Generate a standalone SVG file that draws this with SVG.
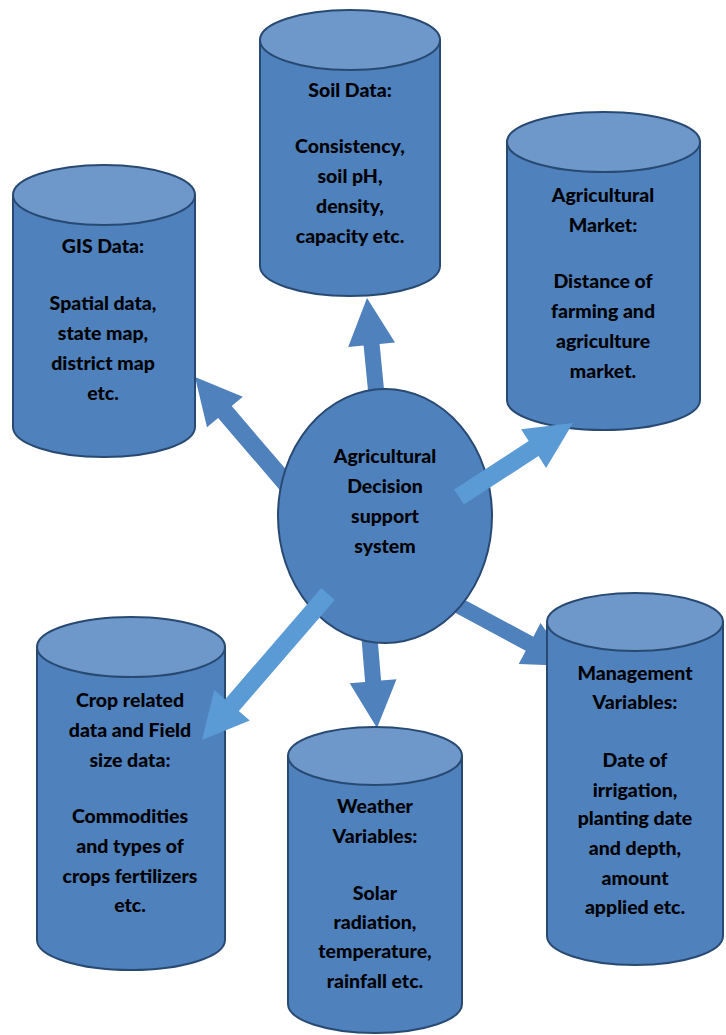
<svg xmlns="http://www.w3.org/2000/svg" width="726" height="1035" viewBox="0 0 726 1035">
<style>
.body{fill:#4F81BD;stroke:#284A72;stroke-width:2}
.top{fill:#6F98CA;stroke:#284A72;stroke-width:2}
.hub{fill:#4F81BD;stroke:#284A72;stroke-width:2}
.ad{fill:#4F81BD}
.al{fill:#5B9BD5}
text{font-family:Lato,"Open Sans","Liberation Sans",sans-serif;font-weight:900;font-size:19.5px;fill:#000;text-anchor:middle}
</style>
<rect width="726" height="1035" fill="#fff"/>
<g id="connectors-back">
<polygon class="ad" points="283.2,493.9 218.1,417.9 207,427.3 195,377 242.8,396.7 231.7,406.1 296.8,482.1"/>
<polygon class="ad" points="369,400.8 363.6,345.6 348.2,347.1 367,298 395,342.5 379.6,344 385,399.2"/>
<polygon class="ad" points="360,620.7 365.1,681.9 349.7,683.2 377,728 396.5,679.2 381.1,680.5 376,619.3"/>
<polygon class="ad" points="455.8,595 533.4,636.7 540.5,622.9 571,666 518.7,664 525.8,650.7 448.2,609"/>
</g>
<g id="hub">
<ellipse class="hub" cx="385" cy="516" rx="107" ry="127"/>
<text x="385" y="463">Agricultural</text>
<text x="385" y="493">Decision</text>
<text x="385" y="523">support</text>
<text x="385" y="553">system</text>
</g>
<g id="gis">
<path class="body" d="M13,195 L13,427 A91,30 0 0 0 195,427 L195,195 Z"/>
<ellipse class="top" cx="104" cy="195" rx="91" ry="30"/>
<text x="103" y="253">GIS Data:</text>
<text x="103" y="310">Spatial data,</text>
<text x="103" y="340">state map,</text>
<text x="103" y="370">district map</text>
<text x="103" y="400">etc.</text>
</g>
<g id="soil">
<path class="body" d="M260,40 L260,266 A90,30 0 0 0 440,266 L440,40 Z"/>
<ellipse class="top" cx="350" cy="40" rx="90" ry="30"/>
<text x="350" y="97">Soil Data:</text>
<text x="350" y="153">Consistency,</text>
<text x="350" y="183">soil pH,</text>
<text x="350" y="213">density,</text>
<text x="350" y="243">capacity etc.</text>
</g>
<g id="market">
<path class="body" d="M507,142 L507,400 A96.5,30 0 0 0 700,400 L700,142 Z"/>
<ellipse class="top" cx="603.5" cy="142" rx="96.5" ry="30"/>
<text x="603" y="202">Agricultural</text>
<text x="603" y="232">Market:</text>
<text x="603" y="288">Distance of</text>
<text x="603" y="318">farming and</text>
<text x="603" y="348">agriculture</text>
<text x="603" y="378">market.</text>
</g>
<g id="crop">
<path class="body" d="M37,647 L37,940 A94,30 0 0 0 225,940 L225,647 Z"/>
<ellipse class="top" cx="131" cy="647" rx="94" ry="30"/>
<text x="130" y="707">Crop related</text>
<text x="130" y="737">data and Field</text>
<text x="130" y="767">size data:</text>
<text x="130" y="823">Commodities</text>
<text x="130" y="853">and types of</text>
<text x="130" y="883">crops fertilizers</text>
<text x="130" y="912">etc.</text>
</g>
<g id="weather">
<path class="body" d="M288,756 L288,1004 A87,29 0 0 0 462,1004 L462,756 Z"/>
<ellipse class="top" cx="375" cy="756" rx="87" ry="29"/>
<text x="375" y="813">Weather</text>
<text x="375" y="843">Variables:</text>
<text x="375" y="900">Solar</text>
<text x="375" y="929">radiation,</text>
<text x="375" y="958">temperature,</text>
<text x="375" y="988">rainfall etc.</text>
</g>
<g id="management">
<path class="body" d="M547,622 L547,936 A88,29 0 0 0 723,936 L723,622 Z"/>
<ellipse class="top" cx="635" cy="622" rx="88" ry="29"/>
<text x="635" y="680">Management</text>
<text x="635" y="709">Variables:</text>
<text x="635" y="767">Date of</text>
<text x="635" y="797">irrigation,</text>
<text x="635" y="825">planting date</text>
<text x="635" y="855">and depth,</text>
<text x="635" y="885">amount</text>
<text x="635" y="914">applied etc.</text>
</g>
<g id="connectors-front">
<polygon class="al" points="454.1,489.5 528.7,441.1 521.1,429.3 573,423 546.1,467.9 538.5,456.1 463.9,504.5"/>
<polygon class="al" points="321.2,588.1 225.2,699.3 214.2,689.9 202,740 249.8,720.5 238.8,711.1 334.8,599.9"/>
</g>
</svg>
